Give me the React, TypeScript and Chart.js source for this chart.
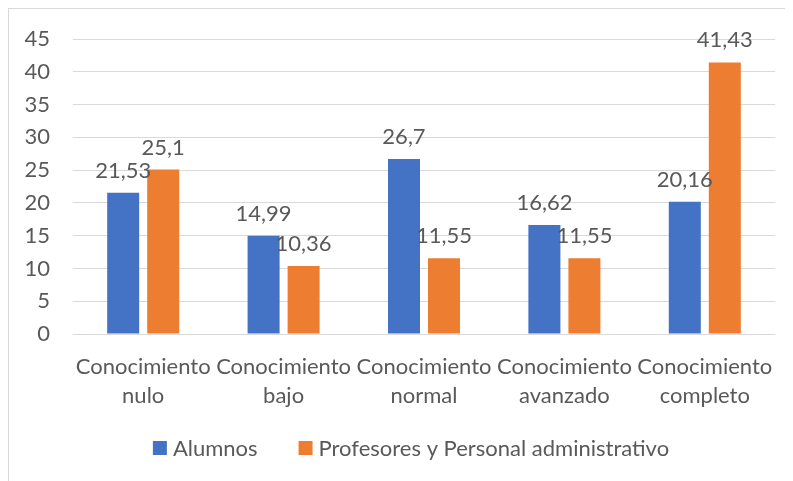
import React, { useEffect, useRef } from "react";
import { Chart, registerables } from "chart.js";

Chart.register(...registerables);

const categories: string[][] = [
  ["Conocimiento", "nulo"],
  ["Conocimiento", "bajo"],
  ["Conocimiento", "normal"],
  ["Conocimiento", "avanzado"],
  ["Conocimiento", "completo"],
];
const alumnos = [21.53, 14.99, 26.7, 16.62, 20.16];
const profesores = [25.1, 10.36, 11.55, 11.55, 41.43];
const seriesLabels = ["Alumnos", "Profesores y Personal administrativo"];
const seriesColors = ["#4472C4", "#ED7D31"];
const yMin = 0;
const yMax = 45;
const yStep = 5;

const FONT_FAMILY = "Lato";
const FONT_SIZE = 22;
const TEXT_COLOR = "#595959";
const GRID_COLOR = "#D9D9D9";

const fmt = (v: number) => String(v).replace(".", ",");

const dataLabelPlugin = {
  id: "dataLabels",
  afterDatasetsDraw(chart: any) {
    const ctx = chart.ctx;
    ctx.save();
    ctx.font = `${FONT_SIZE}px ${FONT_FAMILY}`;
    ctx.fillStyle = TEXT_COLOR;
    ctx.textAlign = "center";
    ctx.textBaseline = "middle";
    chart.data.datasets.forEach((ds: any, i: number) => {
      const meta = chart.getDatasetMeta(i);
      meta.data.forEach((el: any, j: number) => {
        ctx.fillText(fmt(ds.data[j]), el.x, el.y - 22);
      });
    });
    ctx.restore();
  },
};

const legendPlugin = {
  id: "customLegend",
  afterDraw(chart: any) {
    const ctx = chart.ctx;
    ctx.save();
    ctx.font = `${FONT_SIZE}px ${FONT_FAMILY}`;
    ctx.textBaseline = "middle";
    ctx.textAlign = "left";
    const box = 14;
    const gapBoxText = 6;
    const gapItems = 41;
    const items = chart.data.datasets.map((ds: any) => ({
      label: ds.label,
      color: ds.backgroundColor,
      w: ctx.measureText(ds.label).width,
    }));
    const total =
      items.reduce((s: number, it: any) => s + box + gapBoxText + it.w, 0) +
      gapItems * (items.length - 1);
    const centerX = 402;
    const cy = 439;
    let x = centerX - total / 2;
    items.forEach((it: any) => {
      ctx.fillStyle = it.color;
      ctx.fillRect(x, cy - box / 2, box, box);
      x += box + gapBoxText;
      ctx.fillStyle = TEXT_COLOR;
      ctx.fillText(it.label, x, cy + 1);
      x += it.w + gapItems;
    });
    ctx.restore();
  },
};

export default function App() {
  const ref = useRef<HTMLCanvasElement | null>(null);

  useEffect(() => {
    if (!ref.current) return;
    const chart = new Chart(ref.current, {
      type: "bar",
      data: {
        labels: categories,
        datasets: [
          {
            label: seriesLabels[0],
            data: alumnos,
            backgroundColor: seriesColors[0],
            barPercentage: 0.8,
            categoryPercentage: 0.57,
          },
          {
            label: seriesLabels[1],
            data: profesores,
            backgroundColor: seriesColors[1],
            barPercentage: 0.8,
            categoryPercentage: 0.57,
          },
        ],
      },
      options: {
        responsive: false,
        animation: false,
        devicePixelRatio: 1,
        layout: { padding: { left: 0, right: 18, top: 30, bottom: 0 } },
        plugins: {
          legend: { display: false },
          tooltip: { enabled: false },
        },
        scales: {
          x: {
            grid: { display: false },
            border: { display: false },
            ticks: {
              color: TEXT_COLOR,
              font: { family: FONT_FAMILY, size: FONT_SIZE, lineHeight: 29 / FONT_SIZE },
              padding: 10,
              maxRotation: 0,
              autoSkip: false,
            },
            afterFit(scale: any) {
              scale.height = 147;
              scale.paddingLeft = 0;
              scale.paddingRight = 0;
            },
          },
          y: {
            min: yMin,
            max: yMax,
            grid: { color: GRID_COLOR, lineWidth: 1, drawTicks: false },
            border: { display: false },
            ticks: {
              stepSize: yStep,
              color: TEXT_COLOR,
              font: { family: FONT_FAMILY, size: FONT_SIZE },
              padding: 23,
            },
            afterFit(scale: any) {
              scale.width = 64;
              scale.paddingTop = 0;
              scale.paddingBottom = 0;
            },
          },
        },
      },
      plugins: [dataLabelPlugin, legendPlugin],
    });
    return () => chart.destroy();
  }, []);

  return (
    <div
      style={{
        width: 784,
        height: 472,
        borderLeft: `1px solid ${GRID_COLOR}`,
        borderTop: `1px solid ${GRID_COLOR}`,
        background: "#fff",
      }}
    >
      <canvas ref={ref} width={784} height={472} style={{ display: "block", width: 784, height: 472 }} />
    </div>
  );
}
